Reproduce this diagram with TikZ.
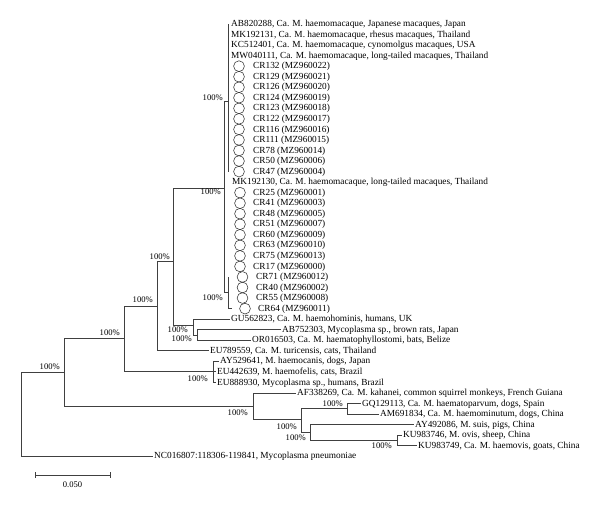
\documentclass[tikz,border=0pt]{standalone}
\usepackage{fontspec}
\setmainfont{Liberation Serif}
\begin{document}
\begin{tikzpicture}[x=1pt,y=-1pt,
  br/.style={line width=0.8pt, draw=black!75},
  leaf/.style={anchor=west, inner xsep=1.5pt, inner ysep=0pt, font=\fontsize{9.3}{10}\selectfont, text height=6.5pt, text depth=1.2pt},
  bs/.style={anchor=east, inner sep=0pt, font=\fontsize{8.6}{10}\selectfont, text height=6.2pt, text depth=1pt},
  circ/.style={circle, draw=black!80, line width=0.55pt, minimum size=10.8pt, inner sep=0pt}]
\useasboundingbox (0,0) rectangle (600,507);
% macaque leaves
\node[leaf] (l0) at (229.5,24.00) {AB820288, Ca. M. haemomacaque, Japanese macaques, Japan};
\node[leaf] (l1) at (229.5,34.54) {MK192131, Ca. M. haemomacaque, rhesus macaques, Thailand};
\node[leaf] (l2) at (229.5,45.08) {KC512401, Ca. M. haemomacaque, cynomolgus macaques, USA};
\node[leaf] (l3) at (229.5,55.62) {MW040111, Ca. M. haemomacaque, long-tailed macaques, Thailand};
\foreach \i/\t in {4/{CR132 (MZ960022)},5/{CR129 (MZ960021)},6/{CR126 (MZ960020)},7/{CR124 (MZ960019)},8/{CR123 (MZ960018)},9/{CR122 (MZ960017)},10/{CR116 (MZ960016)},11/{CR111 (MZ960015)},12/{CR78 (MZ960014)},13/{CR50 (MZ960006)},14/{CR47 (MZ960004)}}{
  \node[circ] (c\i) at (239,{24+10.54*\i}) {};
  \node[leaf] (l\i) at (251.5,{24+10.54*\i}) {\t};
}
\node[leaf] (l15) at (230.5,182.10) {MK192130, Ca. M. haemomacaque, long-tailed macaques, Thailand};
\foreach \i/\t in {16/{CR25 (MZ960001)},17/{CR41 (MZ960003)},18/{CR48 (MZ960005)},19/{CR51 (MZ960007)},20/{CR60 (MZ960009)},21/{CR63 (MZ960010)},22/{CR75 (MZ960013)},23/{CR17 (MZ960000)}}{
  \node[circ] (c\i) at (240,{24+10.54*\i}) {};
  \node[leaf] (l\i) at (251.5,{24+10.54*\i}) {\t};
}
\foreach \i/\t in {24/{CR71 (MZ960012)},25/{CR40 (MZ960002)},26/{CR55 (MZ960008)}}{
  \node[circ] (c\i) at (242.5,{24+10.54*\i}) {};
  \node[leaf] (l\i) at (254.5,{24+10.54*\i}) {\t};
}
\node[circ] (c27) at (245,308.58) {};
\node[leaf] (l27) at (256.5,308.58) {CR64 (MZ960011)};
% other leaves
\node[leaf] (l28) at (229.5,319.12) {GU562823, Ca. M. haemohominis, humans, UK};
\node[leaf] (l29) at (280.5,329.66) {AB752303, Mycoplasma sp., brown rats, Japan};
\node[leaf] (l30) at (250.5,340.20) {OR016503, Ca. M. haematophyllostomi, bats, Belize};
\node[leaf] (l31) at (208.5,350.74) {EU789559, Ca. M. turicensis, cats, Thailand};
\node[leaf] (l32) at (218.5,361.28) {AY529641, M. haemocanis, dogs, Japan};
\node[leaf] (l33) at (215.5,371.82) {EU442639, M. haemofelis, cats, Brazil};
\node[leaf] (l34) at (215.5,382.36) {EU888930, Mycoplasma sp., humans, Brazil};
\node[leaf] (l35) at (295.5,392.90) {AF338269, Ca. M. kahanei, common squirrel monkeys, French Guiana};
\node[leaf] (l36) at (360.5,403.44) {GQ129113, Ca. M. haematoparvum, dogs, Spain};
\node[leaf] (l37) at (378.5,413.98) {AM691834, Ca. M. haemominutum, dogs, China};
\node[leaf] (l38) at (413.5,424.52) {AY492086, M. suis, pigs, China};
\node[leaf] (l39) at (401.5,435.06) {KU983746, M. ovis, sheep, China};
\node[leaf] (l40) at (416.5,445.60) {KU983749, Ca. M. haemovis, goats, China};
\node[leaf] (l41) at (152.5,456.14) {NC016807:118306-119841, Mycoplasma pneumoniae};
% internal nodes
\coordinate (root) at (21,414);
\coordinate (N1) at (64,372);
\coordinate (N2) at (124,338.5);
\coordinate (N3) at (157,306);
\coordinate (A) at (173,261);
\coordinate (B) at (224,188);
\coordinate (C1) at (228,101);
\coordinate (C1top) at (228,24);
\coordinate (C1bot) at (228,171.56);
\coordinate (C2) at (228,292);
\coordinate (C2top) at (228,277);
\coordinate (C2bot) at (232,308.58);
\coordinate (G) at (193,325);
\coordinate (H) at (197,334.93);
\coordinate (M) at (213,371.82);
\coordinate (O) at (253,406);
\coordinate (P) at (301,419.5);
\coordinate (Q) at (347,408.7);
\coordinate (R) at (310,432);
\coordinate (S) at (397,440.33);
% branches
\draw[br] (root) |- (N1);
\draw[br] (root) |- (l41.west);
\draw[br] (N1) |- (N2);
\draw[br] (N1) |- (O);
\draw[br] (N2) |- (N3);
\draw[br] (N2) |- (M);
\draw[br] (N3) |- (A);
\draw[br] (N3) |- (l31.west);
\draw[br] (A) |- (B);
\draw[br] (A) |- (G);
\draw[br] (B) |- (C1);
\draw[br] (B) |- (C2);
\draw[br] (C1) -- (C1top);
\draw[br] (C1) -- (C1bot);
\draw[br] (C2) -- (C2top);
\draw[br] (C2) |- (C2bot);
\draw[br] (G) |- (l28.west);
\draw[br] (G) |- (H);
\draw[br] (H) |- (l29.west);
\draw[br] (H) |- (l30.west);
\draw[br] (M) |- (l32.west);
\draw[br] (M) -- (l33.west);
\draw[br] (M) |- (l34.west);
\draw[br] (O) |- (l35.west);
\draw[br] (O) |- (P);
\draw[br] (P) |- (Q);
\draw[br] (P) |- (R);
\draw[br] (Q) |- (l36.west);
\draw[br] (Q) |- (l37.west);
\draw[br] (R) |- (l38.west);
\draw[br] (R) |- (S);
\draw[br] (S) |- (l39.west);
\draw[br] (S) |- (l40.west);
% bootstrap labels
\node[bs] (b1) at (223,98) {100\%};
\node[bs] (b2) at (221,192) {100\%};
\node[bs] (b3) at (170,257) {100\%};
\node[bs] (b4) at (223,298) {100\%};
\node[bs] (b5) at (153,300) {100\%};
\node[bs] (b6) at (120,333) {100\%};
\node[bs] (b7) at (188,330) {100\%};
\node[bs] (b8) at (192,339) {100\%};
\node[bs] (b9) at (60,367) {100\%};
\node[bs] (b10) at (208,379) {100\%};
\node[bs] (b11) at (248,413) {100\%};
\node[bs] (b12) at (343,404) {100\%};
\node[bs] (b13) at (297,427) {100\%};
\node[bs] (b14) at (306,438) {100\%};
\node[bs] (b15) at (392,446) {100\%};
% scale bar
\coordinate (sb1) at (35,475);
\coordinate (sb2) at (110,475);
\draw[br] (sb1) -- (sb2);
\draw[br] ([yshift=3pt]sb1) -- ([yshift=-3pt]sb1);
\draw[br] ([yshift=3pt]sb2) -- ([yshift=-3pt]sb2);
\node[bs, anchor=center] (sbl) at (72.5,485) {0.050};
\end{tikzpicture}
\end{document}
